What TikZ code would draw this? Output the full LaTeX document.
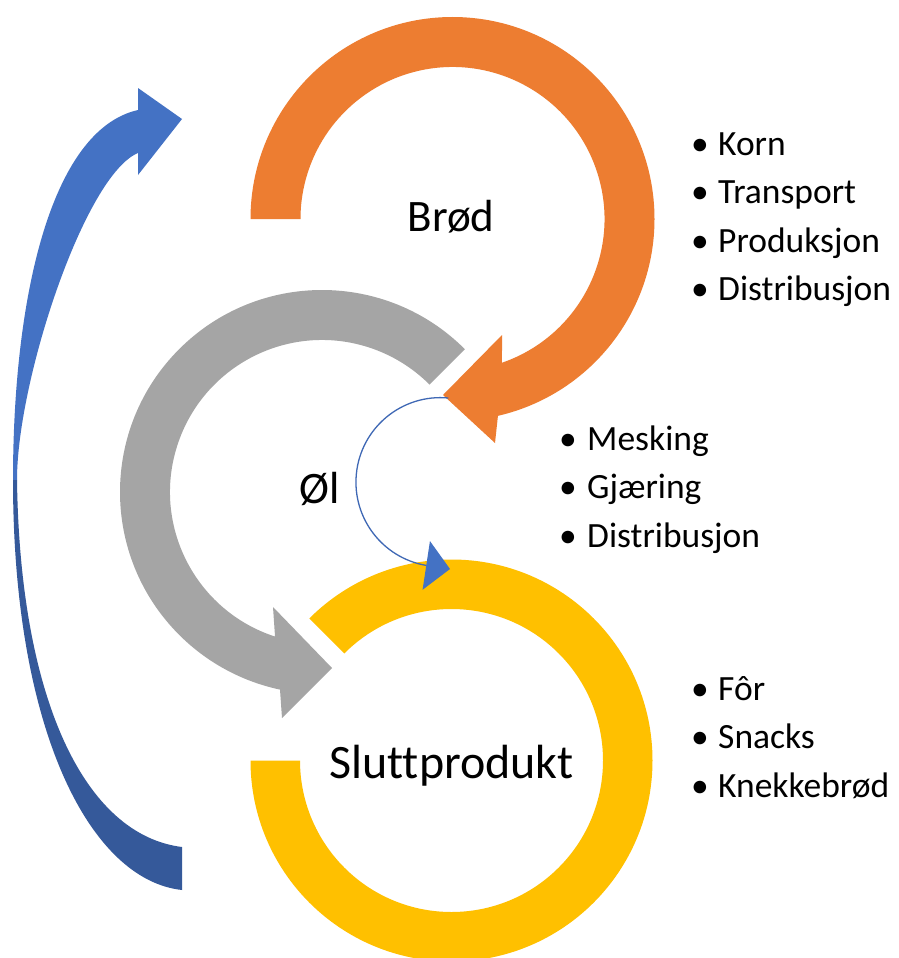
\documentclass[tikz,border=0pt]{standalone}
\usepackage{fontspec}
\setmainfont{Carlito}[Ligatures=NoCommon]
\usetikzlibrary{arrows.meta,calc}
\definecolor{cOrange}{HTML}{ED7D31}
\definecolor{cGray}{HTML}{A5A5A5}
\definecolor{cYellow}{HTML}{FFC000}
\definecolor{cBlue}{HTML}{4472C4}
\definecolor{cBlueD}{HTML}{35599A}
\definecolor{cLine}{HTML}{3F68B5}
\tikzset{
  bigtxt/.style={font=\fontsize{45}{54}\selectfont, inner sep=0pt, anchor=base},
  hugetxt/.style={font=\fontsize{48}{58}\selectfont, inner sep=0pt, anchor=base},
  listtxt/.style={font=\fontsize{35.5}{42}\selectfont, inner sep=0pt, anchor=base west},
  bul/.style={font=\fontsize{35.5}{42}\selectfont, inner sep=0pt, anchor=base},
  conn/.style={draw=cLine, line width=1.3pt, -{Triangle[length=24pt,width=49pt,fill=cBlue,color=cBlue]}},
}
\newcommand{\litem}[5]{%
  \node[bul] (#1b) at (#2,#3) {•};
  \node[listtxt] (#1) at (#4,#3) {#5};}
\begin{document}
\begin{tikzpicture}[x=1pt,y=1pt]
\useasboundingbox (0,0) rectangle (899,-958);
\fill[white] (0,0) rectangle (899,-958);

\coordinate (O) at (452.5,-219);
\coordinate (G) at (322,-492);
\coordinate (Y) at (451.5,-760.5);

% big blue curved arrow (upper, light part)
\fill[cBlue] (138,-88) -- (182,-119) -- (138,-175) -- (138,-153)
  .. controls (85,-175) and (17,-380) .. (17,-480)
  -- (13,-480)
  .. controls (13,-300) and (50,-130) .. (138,-110)
  -- cycle;
% big blue curved arrow (lower, dark part)
\fill[cBlueD] (17,-480)
  .. controls (20,-700) and (85,-835) .. (182,-847)
  -- (182,-890)
  .. controls (90,-880) and (13,-730) .. (13,-480)
  -- cycle;

% gray circular arrow
\fill[cGray] ($(G)+(45:202)$) arc[start angle=45,end angle=258,radius=202]
  -- (282,-718) -- (332,-668) -- (273,-607)
  -- ($(G)+(252:152)$) arc[start angle=252,end angle=45,radius=152] -- cycle;

% orange circular arrow
\fill[cOrange] ($(O)+(180:202)$) arc[start angle=180,end angle=-77,radius=202]
  -- (495,-443) -- (443,-395) -- (502,-335)
  -- ($(O)+(-71:152)$) arc[start angle=-71,end angle=180,radius=152] -- cycle;

% yellow ring
\fill[cYellow] ($(Y)+(180:201)$) arc[start angle=180,end angle=495,radius=201]
  -- ($(Y)+(135:151.5)$) arc[start angle=135,end angle=-180,radius=151.5] -- cycle;

% thin blue connector
\coordinate (cs) at (448.4,-398);
\coordinate (ctip) at (450,-569);
\draw[conn] (cs) arc[start angle=84.6,end angle=260,radius=84.5] -- (ctip);

% labels
\node[bigtxt] (brod) at (451,-231) {Brød};
\node[bigtxt] (ol) at (320,-503) {Øl};
\node[hugetxt] (slutt) at (451.5,-778) {Sluttprodukt};

\litem{korn}{700}{-155}{718}{Korn}
\litem{transport}{700}{-203}{718}{Transport}
\litem{produksjon}{700}{-252}{718}{Produksjon}
\litem{distA}{700}{-300}{718}{Distribusjon}

\litem{mesking}{568}{-450}{587}{Mesking}
\litem{gjaering}{568}{-498}{587}{Gjæring}
\litem{distB}{568}{-547}{587}{Distribusjon}

\litem{foer}{700}{-700}{718}{Fôr}
\litem{snacks}{700}{-748}{718}{Snacks}
\litem{knekk}{700}{-797}{718}{Knekkebrød}
\end{tikzpicture}
\end{document}
